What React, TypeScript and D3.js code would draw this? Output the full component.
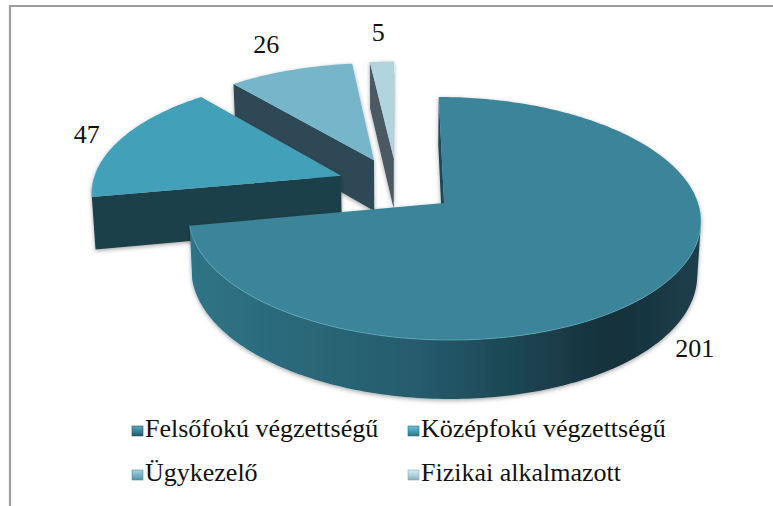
import React from "react";
import * as d3 from "d3";

const categories = ["Felsőfokú végzettségű", "Középfokú végzettségű", "Ügykezelő", "Fizikai alkalmazott"];
const values = [201, 47, 26, 5];
const valueLabels = ["201", "47", "26", "5"];

const topColors = ["#3a8499", "#43a0b8", "#77b6ca", "#b1d4df"];
const sideColors = ["#24596a", "#1c3f4a", "#2f4a54", "#4b5a62"];
const markerLight = ["#5fa7bb", "#6cc0d4", "#a3d3e2", "#d6e9ef"];
const markerDark = ["#235566", "#2a7488", "#4f91a6", "#86aab6"];

const W = 773;
const H = 506;
const CX = 397;
const CY = 185;
const RX = 249;
const RY = 115;
const DEPTH = 52;
const K = 0.125;
const Q = 0.012;
const EXPLODE = 0.241;
const FONT = "Liberation Serif, Times New Roman, DejaVu Serif, serif";
const LABEL_SIZE = 26;
const LEGEND_SIZE = 26;

type P = [number, number];

function project(u: number, v: number, d: number): P {
  const s = 1 / (1 - K * v);
  const shrink = 1 - Q * d;
  return [CX + RX * u * s * shrink, CY + RY * v * s * shrink + DEPTH * d * s];
}

function area(pts: P[]): number {
  let a = 0;
  for (let i = 0; i < pts.length; i++) {
    const p = pts[i];
    const q = pts[(i + 1) % pts.length];
    a += p[0] * q[1] - q[0] * p[1];
  }
  return a / 2;
}

const line = d3.line<P>();
const poly = (pts: P[]) => (line(pts) || "") + "Z";

const arcs = d3
  .pie<number>()
  .sort(null)
  .startAngle(0)
  .endAngle(Math.PI * 2)(values);

type Face = { d: string; fill: string };

const slices = arcs.map((a, i) => {
  const mid = (a.startAngle + a.endAngle) / 2;
  const ou = EXPLODE * Math.sin(mid);
  const ov = -EXPLODE * Math.cos(mid);
  const pt = (t: number, r: number, d: number) => project(ou + r * Math.sin(t), ov - r * Math.cos(t), d);
  const n = Math.max(2, Math.ceil((a.endAngle - a.startAngle) / (Math.PI / 180)));
  const ts = d3.range(n + 1).map((j) => a.startAngle + ((a.endAngle - a.startAngle) * j) / n);

  const faces: Face[] = [];
  let group: number[] = [];
  const flush = () => {
    if (group.length > 1) {
      const top = group.map((t) => pt(t, 1, 0));
      const bot = group.map((t) => pt(t, 1, 1)).reverse();
      faces.push({ d: poly([...top, ...bot]), fill: i === 0 ? "url(#mainSide)" : sideColors[i] });
    }
    group = [];
  };
  for (let j = 0; j < n; j++) {
    const q: P[] = [pt(ts[j], 1, 0), pt(ts[j + 1], 1, 0), pt(ts[j + 1], 1, 1), pt(ts[j], 1, 1)];
    if (area(q) < 0) {
      if (group.length === 0) group.push(ts[j]);
      group.push(ts[j + 1]);
    } else flush();
  }
  flush();
  const at = pt(0, 0, 0);
  const ab = pt(0, 0, 1);
  const s0: P[] = [at, pt(a.startAngle, 1, 0), pt(a.startAngle, 1, 1), ab];
  const s1: P[] = [pt(a.endAngle, 1, 0), at, ab, pt(a.endAngle, 1, 1)];
  if (area(s0) < 0) faces.push({ d: poly(s0), fill: i === 0 ? "#1e4a58" : sideColors[i] });
  if (area(s1) < 0) faces.push({ d: poly(s1), fill: i === 0 ? "#1e4a58" : sideColors[i] });

  const top = poly([at, ...ts.map((t) => pt(t, 1, 0))]);
  const rim = line(ts.filter((t) => -Math.cos(t) > 0.05).map((t) => pt(t, 1, 0))) || "";

  const nv = -Math.cos(mid);
  const dl = nv > 0 ? 0.75 : 0;
  const anchor = pt(mid, 1, dl);
  const c = project(0, 0, 0);
  let dx = anchor[0] - c[0];
  let dy = anchor[1] - c[1];
  const len = Math.hypot(dx, dy);
  dx /= len;
  dy /= len;
  const w = valueLabels[i].length * 0.5 * LABEL_SIZE;
  const h = 0.68 * LABEL_SIZE;
  const dist = 20 + Math.abs(dx) * (w / 2) + Math.abs(dy) * (h / 2);
  const lx = anchor[0] + dx * dist;
  const ly = anchor[1] + dy * dist;

  return { i, depth: ov, faces, top, rim, lx, ly };
});

const order = [...slices].sort((a, b) => a.depth - b.depth);

const legendCols = [132, 408];
const legendRows = [437, 481];

export default function App() {
  return (
    <div style={{ position: "absolute", left: 0, top: 0 }}>
      <svg width={W} height={H} viewBox={`0 0 ${W} ${H}`} style={{ display: "block", background: "#fff" }}>
        <defs>
          <linearGradient id="mainSide" gradientUnits="userSpaceOnUse" x1={190} y1={0} x2={705} y2={0}>
            <stop offset="0" stopColor="#2f7486" />
            <stop offset="0.45" stopColor="#255b6b" />
            <stop offset="0.82" stopColor="#16303b" />
            <stop offset="1" stopColor="#1d404c" />
          </linearGradient>
          <filter id="shadow" x="-20%" y="-20%" width="140%" height="140%">
            <feDropShadow dx={0} dy={1.5} stdDeviation={2} floodColor="#000" floodOpacity={0.35} />
          </filter>
          {topColors.map((c, i) => (
            <linearGradient key={i} id={`mk${i}`} x1="0" y1="0" x2="0" y2="1">
              <stop offset="0" stopColor={markerLight[i]} />
              <stop offset="0.5" stopColor={c} />
              <stop offset="1" stopColor={markerDark[i]} />
            </linearGradient>
          ))}
        </defs>
        <rect x={0} y={0} width={W} height={H} fill="#fff" />
        <path d={`M10,${H} L10,6 L${W},6`} fill="none" stroke="#9c9c9c" strokeWidth={2.2} />
        {order.map((s) => (
          <g key={s.i} filter="url(#shadow)">
            {s.faces.map((f, k) => (
              <path key={k} d={f.d} fill={f.fill} />
            ))}
            <path d={s.top} fill={topColors[s.i]} />
            {s.rim && <path d={s.rim} fill="none" stroke="#6ab6ca" strokeWidth={1} strokeOpacity={0.6} />}
          </g>
        ))}
        {slices.map((s) => (
          <text
            key={s.i}
            x={s.lx}
            y={s.ly + 0.34 * LABEL_SIZE}
            textAnchor="middle"
            style={{ fontFamily: FONT, fontSize: LABEL_SIZE }}
            fill="#111"
          >
            {valueLabels[s.i]}
          </text>
        ))}
        {categories.map((c, i) => {
          const x = legendCols[i % 2];
          const y = legendRows[Math.floor(i / 2)];
          return (
            <g key={c}>
              <rect x={x} y={y - 11} width={11} height={10} fill={`url(#mk${i})`} stroke={markerDark[i]} strokeWidth={0.6} />
              <text x={x + 13} y={y} style={{ fontFamily: FONT, fontSize: LEGEND_SIZE }} fill="#111">
                {c}
              </text>
            </g>
          );
        })}
      </svg>
    </div>
  );
}
